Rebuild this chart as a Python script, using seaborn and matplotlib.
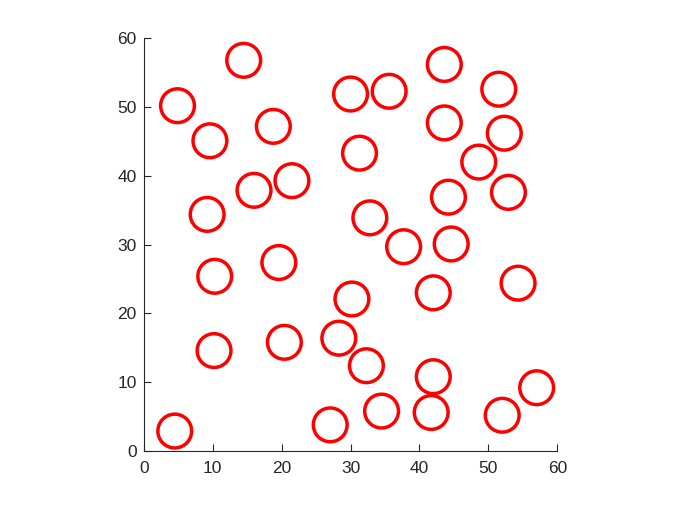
import matplotlib
matplotlib.use("Agg")
import matplotlib.pyplot as plt
import seaborn as sns
import pandas as pd

x_centers = [14.5, 4.9, 9.6, 18.8, 21.5, 16.0, 9.2,
             30.0, 35.6, 43.6, 51.5, 43.6, 52.3, 31.3, 48.6, 44.2, 52.9, 32.8,
             19.6, 10.3, 10.2, 20.4, 4.5,
             37.7, 44.6, 54.3, 30.2, 42.0, 28.3, 32.3, 42.0, 57.0, 34.5, 41.7, 52.0, 27.05]
y_centers = [56.8, 50.2, 45.1, 47.2, 39.3, 37.9, 34.4,
             51.9, 52.3, 56.2, 52.6, 47.7, 46.2, 43.3, 42.0, 36.9, 37.6, 33.9,
             27.4, 25.4, 14.6, 15.8, 2.9,
             29.7, 30.1, 24.4, 22.1, 23.0, 16.4, 12.4, 10.8, 9.2, 5.8, 5.6, 5.2, 3.8]
x_ticks = [0, 10, 20, 30, 40, 50, 60]
y_ticks = [0, 10, 20, 30, 40, 50, 60]

df = pd.DataFrame({"x": x_centers, "y": y_centers})

sns.set_style("white")
plt.rcParams['font.family'] = ['Liberation Sans', 'DejaVu Sans']

fig = plt.figure(figsize=(6.77, 5.08), dpi=100)
ax = fig.add_axes([0.2123, 0.1122, 0.6110, 0.8124])

radius_data = 2.45
px_per_unit = 0.6110 * 677 / 60
diam_pt = 2 * radius_data * px_per_unit * 72 / 100

sns.scatterplot(data=df, x="x", y="y", ax=ax, marker="o", s=diam_pt ** 2,
                facecolor="none", edgecolor="#ff0000", linewidth=2.5, legend=False,
                clip_on=False)

ax.set_xlim(0, 60)
ax.set_ylim(0, 60)
ax.set_xticks(x_ticks)
ax.set_yticks(y_ticks)
ax.set_xlabel("")
ax.set_ylabel("")
for side in ["top", "right"]:
    ax.spines[side].set_visible(False)
for side in ["left", "bottom"]:
    ax.spines[side].set_color("#262626")
    ax.spines[side].set_linewidth(0.8)
ax.tick_params(direction="in", length=5, width=0.8, color="#262626",
               labelsize=12.5, labelcolor="#262626", bottom=True, left=True)
ax.tick_params(axis="x", pad=7)
ax.tick_params(axis="y", pad=5)

fig.savefig("out.png", dpi=100)
